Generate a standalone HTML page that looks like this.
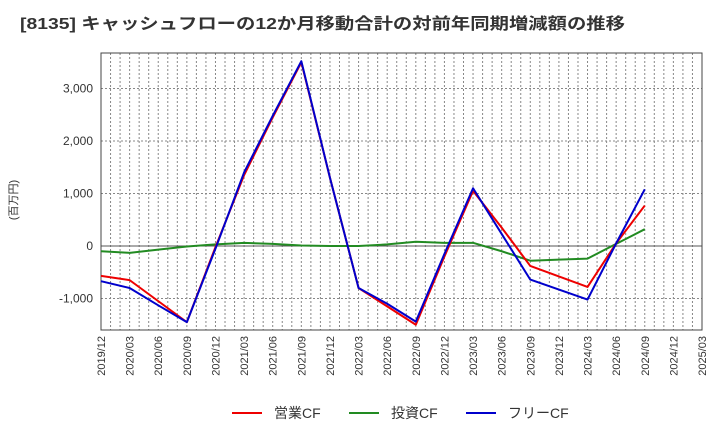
<!DOCTYPE html>
<html><head><meta charset="utf-8"><style>
body{margin:0;background:#fff;font-family:"Liberation Sans","Noto Sans CJK JP",sans-serif}
svg text{font-family:"Liberation Sans","Noto Sans CJK JP",sans-serif}
</style></head><body>
<svg id="c" width="720" height="440" xmlns="http://www.w3.org/2000/svg">
<text x="20" y="29" font-size="16" font-weight="bold" fill="#333" textLength="605" lengthAdjust="spacingAndGlyphs">[8135]  キャッシュフローの12か月移動合計の対前年同期増減額の推移</text>
<text transform="translate(17,200) rotate(-90)" font-size="11" fill="#333" text-anchor="middle">(百万円)</text>
<g id="grid"></g><g id="axes"></g><g id="series"></g>
<g>
<line x1="232" y1="413" x2="262" y2="413" stroke="#e00" stroke-width="2"/><text x="274" y="418" font-size="14" fill="#333">営業CF</text>
<line x1="349" y1="413" x2="379" y2="413" stroke="#228b22" stroke-width="2"/><text x="391" y="418" font-size="14" fill="#333">投資CF</text>
<line x1="466" y1="413" x2="496" y2="413" stroke="#00c" stroke-width="2"/><text x="508" y="418" font-size="14" fill="#333">フリーCF</text>
</g>
</svg>
<script>
const xLabels=["2019/12","2020/03","2020/06","2020/09","2020/12","2021/03","2021/06","2021/09","2021/12","2022/03","2022/06","2022/09","2022/12","2023/03","2023/06","2023/09","2023/12","2024/03","2024/06","2024/09","2024/12","2025/03"];
const yTicks=[-1000,0,1000,2000,3000];
const yTickLabels=["-1,000","0","1,000","2,000","3,000"];
const opCF=[-570,-650,-1050,-1450,-20,1350,2450,3500,1300,-800,-1150,-1500,-200,1050,350,-380,-580,-780,50,770];
const invCF=[-100,-130,-70,-10,30,60,40,10,0,0,30,80,60,60,-100,-280,-260,-240,40,320];
const freeCF=[-670,-800,-1130,-1450,-50,1400,2480,3520,1300,-800,-1100,-1440,-150,1100,230,-640,-830,-1020,50,1080];
const L=101,R=702,T=53,B=330;
const X=i=>L+(R-L)*i/21;
const Y=v=>246-v*0.0525;
const NS="http://www.w3.org/2000/svg";
function mk(p,t,a){const e=document.createElementNS(NS,t);for(const k in a)e.setAttribute(k,a[k]);p.appendChild(e);return e;}
const g=document.getElementById('grid'),ax=document.getElementById('axes'),s=document.getElementById('series');
for(let m=1;m<63;m++){const x=L+(R-L)*m/63;const l=mk(g,'line',{x1:x,y1:T,x2:x,y2:B,stroke:'#888','stroke-dasharray':'2,2','stroke-width':1});

}
yTicks.forEach((v,i)=>{const y=Y(v);const l=mk(g,'line',{x1:L,y1:y,x2:R,y2:y,stroke:v===0?'#555':'#888','stroke-dasharray':v===0?'':'2,2','stroke-width':1});


const t=mk(ax,'text',{x:L-8,y:y+4,'font-size':12,fill:'#333','text-anchor':'end'});t.textContent=yTickLabels[i];

});
const fr=mk(ax,'rect',{x:L,y:T,width:R-L,height:B-T,fill:'none',stroke:'#444','stroke-width':1});


xLabels.forEach((lb,i)=>{const x=X(i);const t=mk(ax,'text',{transform:`translate(${x+4},${B+6}) rotate(-90)`,'font-size':11,fill:'#333','text-anchor':'end'});t.textContent=lb;

});
[[invCF,'#228b22','investing-cf-line'],[opCF,'#e00','operating-cf-line'],[freeCF,'#00c','free-cf-line']].forEach(([d,c,n])=>{
const p=mk(s,'polyline',{points:d.map((v,i)=>X(i)+','+Y(v)).join(' '),fill:'none',stroke:c,'stroke-width':2,'stroke-linejoin':'round'});

});
</script>
</body></html>
